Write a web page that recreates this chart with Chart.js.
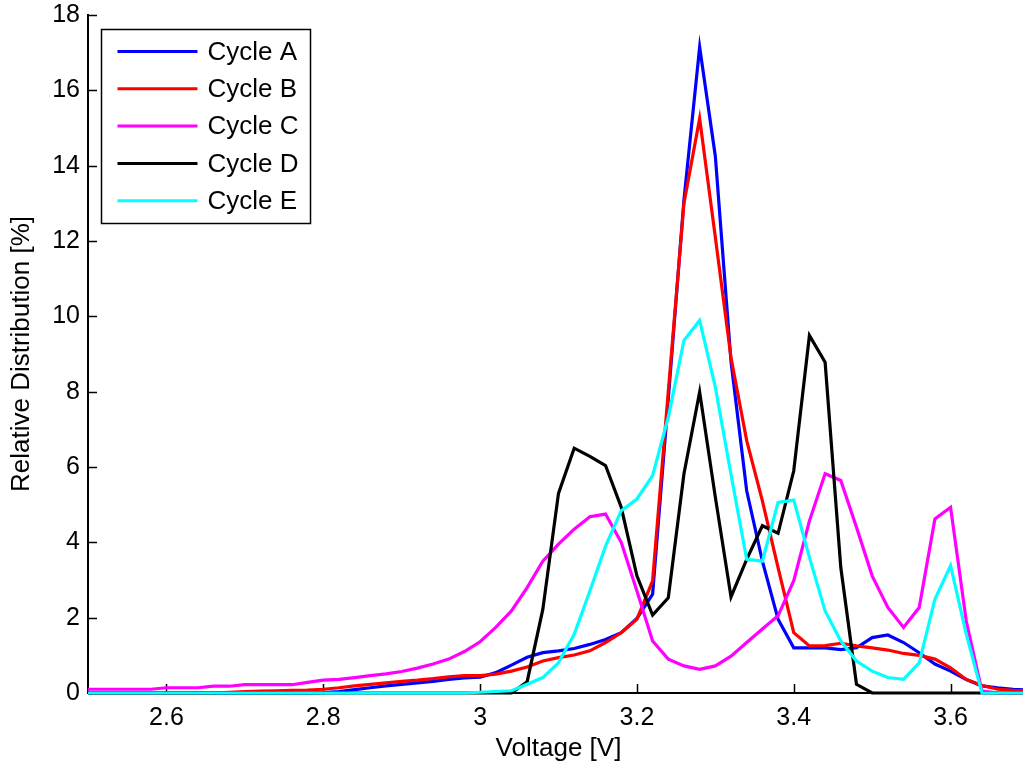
<!DOCTYPE html>
<html>
<head>
<meta charset="utf-8">
<title>Relative Distribution</title>
<script src="https://cdn.jsdelivr.net/npm/chart.js@4.4.1/dist/chart.umd.min.js"></script>
<style>
  html, body { margin: 0; padding: 0; background: #fff; overflow: hidden; }
  #wrap { width: 1040px; height: 772px; }
</style>
</head>
<body>
<div id="wrap"><canvas id="myChart" width="1040" height="772"></canvas></div>
<script>
// Voltage grid (x) and the five distributions
const voltage = [2.50, 2.52, 2.54, 2.56, 2.58, 2.60, 2.62, 2.64, 2.66, 2.68,
                 2.70, 2.72, 2.74, 2.76, 2.78, 2.80, 2.82, 2.84, 2.86, 2.88,
                 2.90, 2.92, 2.94, 2.96, 2.98, 3.00, 3.02, 3.04, 3.06, 3.08,
                 3.10, 3.12, 3.14, 3.16, 3.18, 3.20, 3.22, 3.24, 3.26, 3.28,
                 3.30, 3.32, 3.34, 3.36, 3.38, 3.40, 3.42, 3.44, 3.46, 3.48,
                 3.50, 3.52, 3.54, 3.56, 3.58, 3.60, 3.62, 3.64, 3.66, 3.68, 3.70];

const cycleA = [0, 0, 0, 0, 0, 0, 0, 0, 0, 0,
                0, 0, 0, 0, 0, 0.01, 0.04, 0.09, 0.14, 0.19,
                0.23, 0.27, 0.31, 0.36, 0.40, 0.42, 0.54, 0.74, 0.95, 1.07,
                1.12, 1.18, 1.29, 1.42, 1.60, 1.98, 2.62, 7.8, 13.1, 17.15,
                14.25, 8.8, 5.37, 3.5, 1.96, 1.2, 1.2, 1.2, 1.15, 1.2,
                1.47, 1.54, 1.34, 1.07, 0.77, 0.58, 0.36, 0.19, 0.14, 0.1, 0.08];

const cycleB = [0, 0, 0, 0, 0, 0, 0, 0, 0, 0.02,
                0.04, 0.05, 0.06, 0.07, 0.08, 0.1, 0.14, 0.19, 0.23, 0.27,
                0.31, 0.34, 0.38, 0.43, 0.46, 0.46, 0.5, 0.58, 0.69, 0.85,
                0.94, 1.01, 1.12, 1.34, 1.6, 1.96, 2.98, 8.0, 13.0, 15.25,
                12.1, 8.9, 6.7, 5.1, 3.33, 1.6, 1.25, 1.26, 1.32, 1.25,
                1.2, 1.14, 1.05, 1.0, 0.9, 0.67, 0.36, 0.2, 0.1, 0.07, 0.05];

const cycleC = [0.1, 0.1, 0.1, 0.1, 0.1, 0.14, 0.14, 0.14, 0.18, 0.18,
                0.22, 0.22, 0.22, 0.22, 0.28, 0.34, 0.36, 0.41, 0.46, 0.51,
                0.57, 0.66, 0.77, 0.9, 1.1, 1.36, 1.74, 2.18, 2.8, 3.5,
                3.95, 4.35, 4.68, 4.75, 4.0, 2.71, 1.38, 0.9, 0.72, 0.63,
                0.72, 0.98, 1.34, 1.7, 2.05, 2.98, 4.57, 5.82, 5.64, 4.4,
                3.11, 2.27, 1.74, 2.27, 4.62, 4.93, 1.91, 0.05, 0, 0, 0];

const cycleD = [0, 0, 0, 0, 0, 0, 0, 0, 0, 0,
                0, 0, 0, 0, 0, 0, 0, 0, 0, 0,
                0, 0, 0, 0, 0, 0, 0, 0, 0.3, 2.22,
                5.3, 6.5, 6.28, 6.04, 4.93, 3.11, 2.07, 2.53, 5.82, 7.99,
                5.2, 2.55, 3.55, 4.44, 4.24, 5.9, 9.49, 8.78, 3.33, 0.23,
                0, 0, 0, 0, 0, 0, 0, 0, 0, 0, 0];

const cycleE = [0, 0, 0, 0, 0, 0, 0, 0, 0, 0,
                0, 0, 0, 0, 0, 0, 0, 0, 0, 0,
                0, 0, 0, 0, 0, 0.02, 0.04, 0.06, 0.23, 0.41,
                0.8, 1.56, 2.71, 3.9, 4.84, 5.15, 5.77, 7.32, 9.36, 9.89,
                8.12, 5.8, 3.55, 3.5, 5.06, 5.12, 3.6, 2.18, 1.38, 0.85,
                0.58, 0.41, 0.36, 0.8, 2.49, 3.38, 1.56, 0, 0, 0, 0];

const seriesNames = ['Cycle A', 'Cycle B', 'Cycle C', 'Cycle D', 'Cycle E'];
const seriesColors = ['#0000ff', '#ff0000', '#ff00ff', '#000000', '#00ffff'];
const xTicks = [2.6, 2.8, 3, 3.2, 3.4, 3.6];
const yTicks = [0, 2, 4, 6, 8, 10, 12, 14, 16, 18];

const FONT = "'Liberation Sans', Arial, Helvetica, sans-serif";

// matlab style ticks pointing into the plot
const innerTicks = {
    id: 'innerTicks',
    beforeDatasetsDraw(chart) {
        const ctx = chart.ctx;
        const area = chart.chartArea;
        const xs = chart.scales.x, ys = chart.scales.y;
        ctx.save();
        ctx.strokeStyle = '#000';
        ctx.lineWidth = 1.5;
        ctx.beginPath();
        xTicks.forEach(v => {
            const px = Math.round(xs.getPixelForValue(v)) + 0.5;
            ctx.moveTo(px, area.bottom);
            ctx.lineTo(px, area.bottom - 9);
        });
        yTicks.forEach(v => {
            if (v === 0) return;
            const py = Math.round(ys.getPixelForValue(v)) + 0.5;
            ctx.moveTo(area.left, py);
            ctx.lineTo(area.left + 9, py);
        });
        ctx.stroke();
        ctx.restore();
    }
};

// boxed legend in the upper left corner
const boxLegend = {
    id: 'boxLegend',
    afterDatasetsDraw(chart) {
        const ctx = chart.ctx;
        const area = chart.chartArea;
        const x0 = area.left + 13.5, y0 = area.top + 14.5;
        const w = 209, h = 194, row = 37.3;
        ctx.save();
        ctx.fillStyle = '#fff';
        ctx.fillRect(x0, y0, w, h);
        ctx.strokeStyle = '#000';
        ctx.lineWidth = 1.5;
        ctx.strokeRect(x0, y0, w, h);
        ctx.font = '26px ' + FONT;
        ctx.textBaseline = 'middle';
        ctx.textAlign = 'left';
        chart.data.datasets.forEach((ds, i) => {
            const y = y0 + 22 + i * row;
            ctx.strokeStyle = ds.borderColor;
            ctx.lineWidth = 3;
            ctx.beginPath();
            ctx.moveTo(x0 + 16, y);
            ctx.lineTo(x0 + 96, y);
            ctx.stroke();
            ctx.fillStyle = '#000';
            ctx.fillText(ds.label, x0 + 106, y + 1);
        });
        ctx.restore();
    }
};

document.addEventListener("DOMContentLoaded", function () {
    const ctx = document.getElementById('myChart');
    const cycles = [cycleA, cycleB, cycleC, cycleD, cycleE];

    new Chart(ctx, {
        type: 'line',
        data: {
            datasets: cycles.map((vals, i) => ({
                label: seriesNames[i],
                data: voltage.map((v, j) => ({ x: v, y: vals[j] })),
                borderColor: seriesColors[i],
                backgroundColor: seriesColors[i],
                borderWidth: 3.2,
                pointRadius: 0,
                tension: 0,
                fill: false,
                clip: false,
                order: cycles.length - i
            }))
        },
        options: {
            responsive: false,
            animation: false,
            layout: { padding: { top: 15, right: 11, left: 0, bottom: 0 } },
            plugins: { legend: { display: false }, tooltip: { enabled: false } },
            scales: {
                x: {
                    type: 'linear',
                    min: 2.5,
                    max: 3.7,
                    afterBuildTicks: s => { s.ticks = xTicks.map(v => ({ value: v })); },
                    afterFit: s => {
                        s.height = 79;
                        s.paddingLeft = 0;
                        s.paddingRight = 0;
                    },
                    grid: { display: false, drawTicks: false },
                    border: { display: true, color: '#000', width: 2 },
                    ticks: {
                        color: '#000',
                        padding: 10,
                        maxRotation: 0,
                        font: { family: FONT, size: 25 },
                        callback: v => String(+v.toFixed(1))
                    },
                    title: {
                        display: true,
                        text: 'Voltage [V]',
                        color: '#000',
                        font: { family: FONT, size: 26 },
                        padding: { top: 0, bottom: 8 }
                    }
                },
                y: {
                    min: 0,
                    max: 18,
                    afterBuildTicks: s => { s.ticks = yTicks.map(v => ({ value: v })); },
                    afterFit: s => {
                        s.width = 88;
                        s.paddingTop = 0;
                        s.paddingBottom = 0;
                    },
                    grid: { display: false, drawTicks: false },
                    border: { display: true, color: '#000', width: 2 },
                    ticks: {
                        color: '#000',
                        padding: 8,
                        font: { family: FONT, size: 25 },
                        callback: v => String(v)
                    },
                    title: {
                        display: true,
                        text: 'Relative Distribution [%]',
                        color: '#000',
                        font: { family: FONT, size: 26 },
                        padding: { top: 6, bottom: 0 }
                    }
                }
            }
        },
        plugins: [innerTicks, boxLegend]
    });
});
</script>
</body>
</html>
